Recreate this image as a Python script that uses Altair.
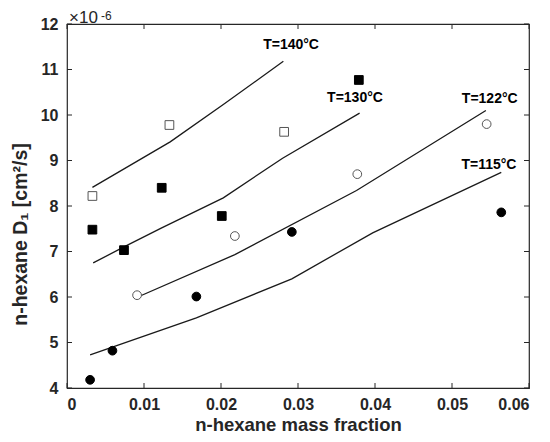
import altair as alt
import pandas as pd

# ---- data ----
series_names = ["140", "130", "122", "115"]

x140 = [0.0033, 0.0133, 0.0282]
y140 = [8.22, 9.78, 9.63]
x130 = [0.0033, 0.0074, 0.0123, 0.0201, 0.0379]
y130 = [7.48, 7.03, 8.40, 7.78, 10.77]
x122 = [0.0091, 0.0218, 0.0377, 0.0545]
y122 = [6.04, 7.34, 8.70, 9.80]
x115 = [0.0030, 0.0059, 0.0168, 0.0292, 0.0564]
y115 = [4.18, 4.82, 6.01, 7.43, 7.86]

# model curves
l140x = [0.0033, 0.0134, 0.0203, 0.0281]
l140y = [8.41, 9.41, 10.23, 11.18]
l130x = [0.0034, 0.0074, 0.0123, 0.0203, 0.0280, 0.0380]
l130y = [6.75, 7.10, 7.52, 8.18, 9.05, 10.04]
l122x = [0.0092, 0.0218, 0.0376, 0.0544]
l122y = [6.00, 6.93, 8.34, 10.10]
l115x = [0.0030, 0.0168, 0.0292, 0.0397, 0.0564]
l115y = [4.73, 5.54, 6.40, 7.41, 8.74]

lab_text = ["T=140°C", "T=130°C", "T=122°C", "T=115°C"]
lab_x = [0.0291, 0.0374, 0.0549, 0.0548]
lab_y = [11.54, 10.37, 10.35, 8.90]

x_ticks = [0, 0.01, 0.02, 0.03, 0.04, 0.05, 0.06]
y_ticks = [4, 5, 6, 7, 8, 9, 10, 11, 12]

# ---- tables ----
pts = pd.concat([
    pd.DataFrame({"x": xs, "y": ys, "series": s})
    for xs, ys, s in [(x140, y140, "140"), (x130, y130, "130"),
                      (x122, y122, "122"), (x115, y115, "115")]
])
lines = pd.concat([
    pd.DataFrame({"x": xs, "y": ys, "series": s, "order": range(len(xs))})
    for xs, ys, s in [(l140x, l140y, "140"), (l130x, l130y, "130"),
                      (l122x, l122y, "122"), (l115x, l115y, "115")]
])
labels = pd.DataFrame({"x": lab_x, "y": lab_y, "text": lab_text})

W, H = 462, 364
AX = "#262626"
FONT = "Liberation Sans"

xs = alt.Scale(domain=[0, 0.06], nice=False, zero=False)
ys = alt.Scale(domain=[4, 12], nice=False, zero=False)

axX = alt.Axis(
    orient="bottom", values=x_ticks, format=".2~f", ticks=False, domain=False, grid=False,
    labelFont=FONT, labelFontSize=16, labelFontWeight="bold", labelColor=AX, labelPadding=8,
    title="n-hexane mass fraction", titleFont=FONT, titleFontSize=18.5, titleFontWeight="bold",
    titleColor=AX, titleX=231, titleY=42, titleBaseline="alphabetic", titleAlign="center")
axY = alt.Axis(
    orient="left", values=y_ticks, format="d", ticks=False, domain=False, grid=False,
    labelFont=FONT, labelFontSize=16, labelFontWeight="bold", labelColor=AX, labelPadding=9,
    title="n-hexane D₁ [cm²/s]", titleFont=FONT, titleFontSize=19.5, titleFontWeight="bold",
    titleColor=AX, titleX=-41, titleY=210, titleBaseline="alphabetic", titleAlign="center",
    titleAngle=270)

X = lambda f: alt.X(f, scale=xs, axis=axX)
Y = lambda f: alt.Y(f, scale=ys, axis=axY)

points = alt.Chart(pts).mark_point(filled=False, size=76, strokeWidth=1, opacity=1).encode(
    x=X("x:Q"),
    y=Y("y:Q"),
    shape=alt.Shape("series:N", scale=alt.Scale(domain=series_names,
                    range=["square", "square", "circle", "circle"]), legend=None),
    fill=alt.Fill("series:N", scale=alt.Scale(domain=series_names,
                  range=["white", "black", "white", "black"]), legend=None),
    stroke=alt.Stroke("series:N", scale=alt.Scale(domain=series_names,
                      range=["#555555", "black", "#555555", "black"]), legend=None),
)

curve = alt.Chart(lines).mark_line(color="#1a1a1a", strokeWidth=1.3).encode(
    x=X("x:Q"),
    y=Y("y:Q"),
    detail="series:N",
    order="order:Q",
)

text = alt.Chart(labels).mark_text(font=FONT, fontSize=14, fontWeight="bold", color="black",
                                   align="center", baseline="middle").encode(
    x=X("x:Q"),
    y=Y("y:Q"),
    text="text:N",
)

xt = pd.DataFrame({"v": x_ticks})
yt = pd.DataFrame({"v": y_ticks})
tick_b = alt.Chart(xt).mark_rule(color=AX, strokeWidth=1).encode(
    x=X("v:Q"), y=alt.value(H), y2=alt.value(H - 5))
tick_t = alt.Chart(xt).mark_rule(color=AX, strokeWidth=1).encode(
    x=X("v:Q"), y=alt.value(0), y2=alt.value(5))
tick_l = alt.Chart(yt).mark_rule(color=AX, strokeWidth=1).encode(
    y=Y("v:Q"), x=alt.value(0), x2=alt.value(5))
tick_r = alt.Chart(yt).mark_rule(color=AX, strokeWidth=1).encode(
    y=Y("v:Q"), x=alt.value(W - 5), x2=alt.value(W))

exp_base = alt.Chart(pd.DataFrame({"a": [0]})).mark_text(
    text="×10", font=FONT, fontSize=17, color=AX, align="left", baseline="alphabetic").encode(
    x=alt.value(2), y=alt.value(-1))
exp_sup = alt.Chart(pd.DataFrame({"a": [0]})).mark_text(
    text="-6", font=FONT, fontSize=12, color=AX, align="left", baseline="alphabetic").encode(
    x=alt.value(34), y=alt.value(-4))

chart = alt.layer(
    curve, points, text, tick_b, tick_t, tick_l, tick_r, exp_base, exp_sup
).properties(
    width=W, height=H,
    autosize=alt.AutoSizeParams(type="none"),
    padding={"left": 59, "top": 16, "right": 12, "bottom": 46},
    background="white",
).configure_view(stroke=AX, strokeWidth=1.2)

chart.save("out.html", embed_options={"renderer": "svg", "actions": False})
